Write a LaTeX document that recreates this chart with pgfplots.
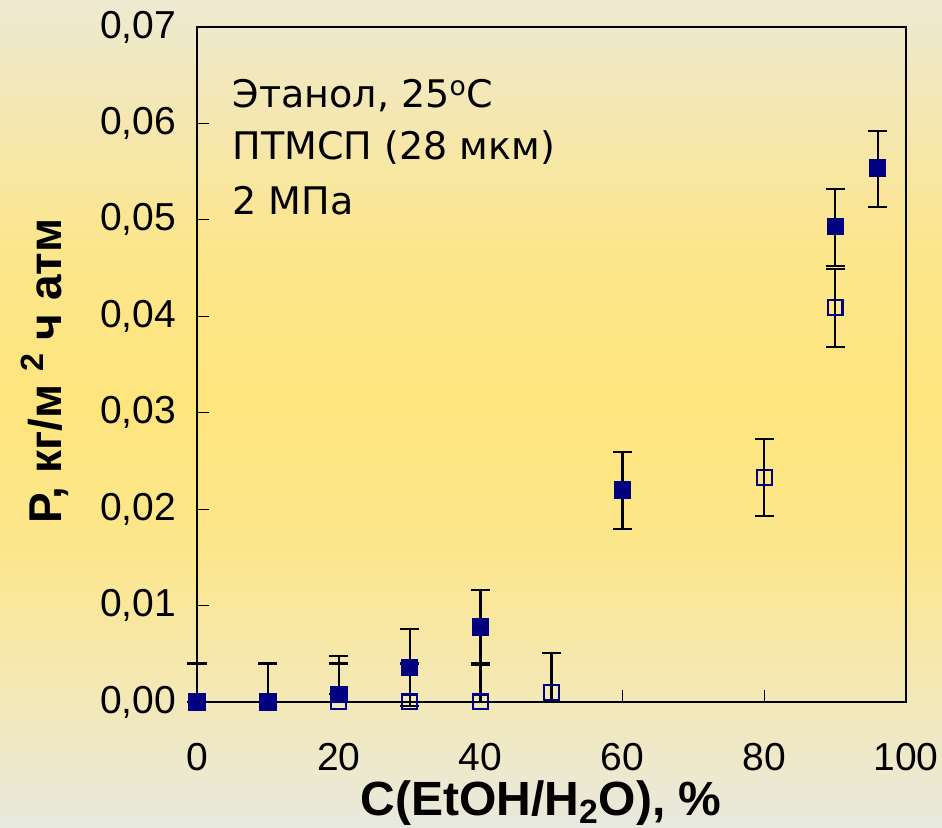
\documentclass[border=0pt]{standalone}
\usepackage{pgfplots}
\pgfplotsset{compat=1.18}
\usepackage{pgfplotstable}
\usepackage{fontspec}
\setmainfont{Liberation Sans}
\newfontfamily\dejavu{DejaVu Sans}

\definecolor{navyblue}{RGB}{0,0,128}
\definecolor{bg0}{HTML}{EEEAD2}
\definecolor{bg1}{HTML}{F4E7B0}
\definecolor{bg2}{HTML}{FCE68C}
\definecolor{bg3}{HTML}{FEE57D}
\definecolor{bg4}{HTML}{FCE68C}
\definecolor{bg5}{HTML}{F5E8B2}
\definecolor{bg6}{HTML}{E8E9DF}
% path is mapped onto 25bp..75bp of the shading
\pgfdeclareverticalshading{bgshade}{100bp}{color(0bp)=(bg6); color(25bp)=(bg6);
  color(33.95bp)=(bg5); color(41.8bp)=(bg4); color(50.85bp)=(bg3);
  color(59.9bp)=(bg2); color(67.75bp)=(bg1); color(75bp)=(bg0); color(100bp)=(bg0)}

% filled squares
\pgfplotstableread{
x   y       ep     em
0   0       0.004  0
10  0       0.004  0
20  0.0008  0.004  0
30  0.0036  0.004  0.004
40  0.0078  0.0038 0.004
60  0.0220  0.0039 0.0041
90  0.0493  0.0039 0.0041
96  0.0554  0.0038 0.0041
}\filled

% open squares
\pgfplotstableread{
x   y       ep     em
20  0       0.004  0
30  0       0.004  0
40  0       0.004  0
50  0.0010  0.0041 0.001
80  0.0233  0.0040 0.0040
90  0.0409  0.0040 0.0041
}\hollow

\begin{document}
\begin{tikzpicture}
% page area and background (1 px of the reference = 0.5pt)
\shade[shading=bgshade] (-98.5pt,-63pt) rectangle (372.5pt,351pt);
\path[use as bounding box] (-98.5pt,-63pt) rectangle (372.5pt,351pt);

\begin{axis}[
    at={(0,0)}, anchor=south west,
    scale only axis,
    width=354.5pt, height=337.5pt,
    xmin=0, xmax=100,
    ymin=0, ymax=0.07,
    xtick={0,20,40,60,80,100},
    ytick={0,0.01,0.02,0.03,0.04,0.05,0.06,0.07},
    scaled y ticks=false,
    tick pos=left,
    tick align=inside,
    major tick length=6pt,
    tick style={black, line width=0.6pt},
    axis line style={black, line width=0.75pt},
    clip=false,
    tick label style={font=\fontsize{19.5}{22}\selectfont, text=black},
    /pgf/number format/assume math mode=true,
    yticklabel style={xshift=-7pt, /pgf/number format/fixed, /pgf/number format/fixed zerofill,
      /pgf/number format/precision=2, /pgf/number format/use comma},
    xticklabel style={yshift=-17pt},
    xlabel={\textbf{C(EtOH/H\textsubscript{2}O), \%}},
    ylabel={\textbf{P, кг/м \textsuperscript{2} ч атм}},
    every axis x label/.style={at={(axis description cs:0.485,0)}, anchor=north, yshift=-36pt, font=\fontsize{24}{26}\selectfont},
    every axis y label/.style={at={(axis description cs:-0.2144,0.49)}, rotate=90, anchor=center, font=\fontsize{23}{26}\selectfont},
]

\addplot[only marks, mark=square*, mark size=4.1pt, color=navyblue,
    error bars/.cd, y dir=both, y explicit,
    error bar style={black, line width=1.1pt},
    error mark options={black, line width=1.1pt, mark size=4.8pt, rotate=90}]
  table[x=x, y=y, y error plus=ep, y error minus=em] {\filled};

\addplot[only marks, mark=square, mark size=3.7pt, color=navyblue,
    mark options={line width=1.1pt, fill=none},
    error bars/.cd, y dir=both, y explicit,
    error bar style={black, line width=1.1pt},
    error mark options={black, line width=1.1pt, mark size=4.8pt, rotate=90}]
  table[x=x, y=y, y error plus=ep, y error minus=em] {\hollow};

\node[anchor=base west, font=\dejavu\fontsize{19}{22}\selectfont] at (axis description cs:0.0405,0.880) {Этанол, 25\textsuperscript{o}C};
\node[anchor=base west, font=\dejavu\fontsize{19}{22}\selectfont] at (axis description cs:0.0405,0.803) {ПТМСП (28 мкм)};
\node[anchor=base west, font=\dejavu\fontsize{19}{22}\selectfont] at (axis description cs:0.0405,0.7215) {2 МПа};
\end{axis}
\end{tikzpicture}
\end{document}
